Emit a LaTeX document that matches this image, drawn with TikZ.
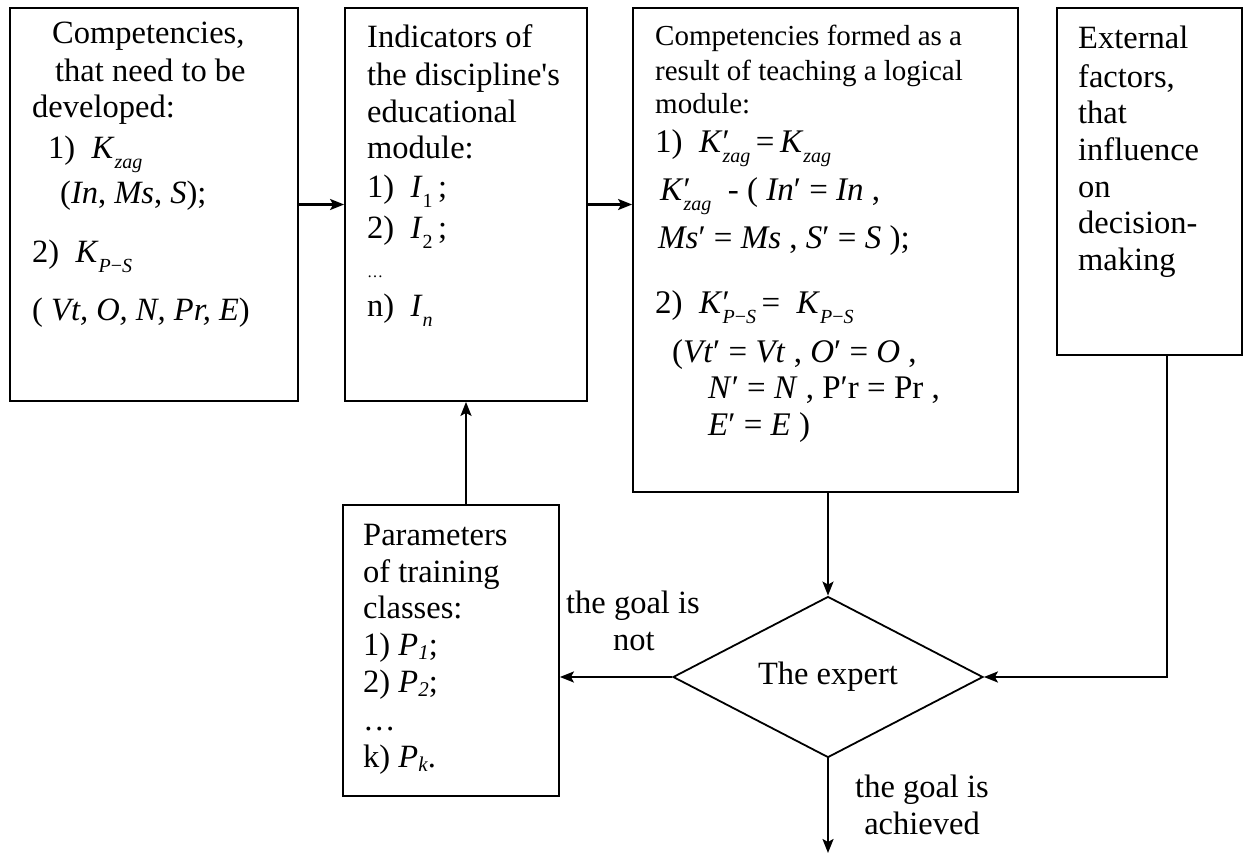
\documentclass[tikz,border=0pt]{standalone}
\usepackage{fontspec}
\setmainfont{Liberation Serif}
\usetikzlibrary{shapes.geometric,arrows.meta}
\newcommand\fA{\fontsize{32.5}{37}\selectfont}
\newcommand\fB{\fontsize{29}{34}\selectfont}
\newcommand\fM{\fontsize{33}{38}\selectfont}
\newcommand\msub[1]{\raisebox{-0.33em}{\fontsize{20}{20}\selectfont #1}}
\newcommand\wsub[1]{\raisebox{-0.15em}{\fontsize{21}{21}\selectfont #1}}
\newcommand\pr{\rlap{′}}
\tikzset{
  box/.style={draw, line width=1.8pt, inner sep=0pt},
  conn/.style={line width=2.2pt, -{Stealth[length=14pt,width=11pt,inset=3pt]}},
  ln/.style={anchor=base west, inner sep=0pt, font=\fA},
  lnB/.style={anchor=base west, inner sep=0pt, font=\fB},
  lnM/.style={anchor=base west, inner sep=0pt, font=\fM},
  lbl/.style={anchor=base, inner sep=0pt, font=\fA},
}
\begin{document}
\begin{tikzpicture}[x=1pt,y=-1pt]
\useasboundingbox (0,0) rectangle (1250,854);
% boxes
\node[box, minimum width=288, minimum height=393] (b1) at (154,204.5) {};
\node[box, minimum width=242, minimum height=393] (b2) at (466,204.5) {};
\node[box, minimum width=385, minimum height=484] (b3) at (825.5,250) {};
\node[box, minimum width=185, minimum height=347] (b4) at (1149.5,181.5) {};
\node[box, minimum width=216, minimum height=291] (b5) at (451,650.5) {};
\node[draw, line width=1.8pt, diamond, aspect=1.9, inner sep=0pt, minimum width=310, minimum height=161, font=\fA] (d) at (828,677) {The expert};
% box 1 text
\node[ln] (t11) at (52,43) {Competencies,};
\node[ln] (t12) at (55,81) {that need to be};
\node[ln] (t13) at (32,117) {developed:};
\node[ln] (t14) at (48,158) {1)\ \ \textit{K}\msub{\textit{zag}}};
\node[ln] (t15) at (60,203) {(\textit{In}, \textit{Ms}, \textit{S});};
\node[ln] (t16) at (32,262) {2)\ \ \textit{K}\msub{\textit{P}−\textit{S}}};
\node[ln] (t17) at (32,320) {( \textit{Vt, O, N, Pr, E})};
% box 2 text
\node[ln] (t21) at (367,47) {Indicators of};
\node[ln] (t22) at (367,85) {the discipline\textquotesingle s};
\node[ln] (t23) at (367,122) {educational};
\node[ln] (t24) at (367,158) {module:};
\node[ln] (t25) at (367,197) {1)\ \ \textit{I}\msub{1}\,;};
\node[ln] (t26) at (367,238) {2)\ \ \textit{I}\msub{2}\,;};
\node[ln] (t27) at (367,277) {\fontsize{16}{16}\selectfont …};
\node[ln] (t28) at (367,316) {n)\ \ \textit{I}\msub{\textit{n}}};
% box 3 text
\node[lnB] (t31) at (655,45) {Competencies formed as a};
\node[lnB] (t32) at (655,80) {result of teaching a logical};
\node[lnB] (t33) at (655,113) {module:};
\node[lnM] (t34) at (655,152) {1)\ \ \textit{K}\pr\msub{\textit{zag}}\,=\,\textit{K}\msub{\textit{zag}}};
\node[lnM] (t35) at (660,200) {\textit{K}\pr\msub{\textit{zag}}\ \ - ( \textit{In}′ = \textit{In} ,};
\node[lnM] (t36) at (658,248) {\textit{Ms}′ = \textit{Ms} ,\ \textit{S}′ = \textit{S} );};
\node[lnM] (t37) at (655,313) {2)\ \ \textit{K}\pr\msub{\textit{P}−\textit{S}}\,=\ \ \textit{K}\msub{\textit{P}−\textit{S}}};
\node[lnM] (t38) at (672,362) {(\textit{Vt}′ = \textit{Vt} ,\ \textit{O}′ = \textit{O} ,};
\node[lnM] (t39) at (708,398) {\textit{N}′ = \textit{N} ,\ P′r = Pr ,};
\node[lnM] (t310) at (708,435) {\textit{E}′ = \textit{E} )};
% box 4 text
\node[ln] (t41) at (1078,48) {External};
\node[ln] (t42) at (1078,87) {factors,};
\node[ln] (t43) at (1078,123) {that};
\node[ln] (t44) at (1078,160) {influence};
\node[ln] (t45) at (1078,197) {on};
\node[ln] (t46) at (1078,233) {decision-};
\node[ln] (t47) at (1078,270) {making};
% box 5 text
\node[ln] (t51) at (363,545) {Parameters};
\node[ln] (t52) at (363,582) {of training};
\node[ln] (t53) at (363,618) {classes:};
\node[ln] (t54) at (363,655) {1) \textit{P}\wsub{\textit{1}};};
\node[ln] (t55) at (363,692) {2) \textit{P}\wsub{\textit{2}};};
\node[ln] (t56) at (363,730) {…};
\node[ln] (t57) at (363,767) {k) \textit{P}\wsub{\textit{k}}.};
% labels
\node[lbl] (la1) at (633,613) {the goal is};
\node[lbl] (la2) at (634,650) {not};
\node[lbl] (lb1) at (922,797) {the goal is};
\node[lbl] (lb2) at (922,834) {achieved};
\coordinate (end) at (828,853);
% connectors
\draw[conn] (b1.east) -- (b2.west);
\draw[conn] (b2.east) -- (b2.east -| b3.west);
\draw[conn] (b3.south -| d.north) -- (d.north);
\draw[conn] (d.west) -- (d.west -| b5.east);
\draw[conn] (d.south) -- (end);
\draw[conn] ([xshift=17.5pt]b4.south) |- (d.east);
\draw[conn] (b5.north -| b2.south) -- (b2.south);
\end{tikzpicture}
\end{document}
